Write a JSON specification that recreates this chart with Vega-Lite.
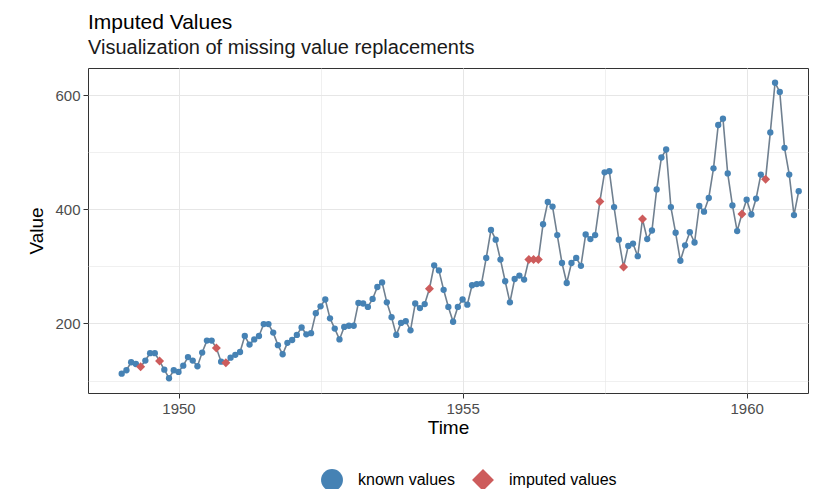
{
"$schema": "https://vega.github.io/schema/vega-lite/v6.json",
"width": 720,
"height": 325,
"autosize": {"type": "none"},
"padding": {"left": 88, "top": 68, "right": 32, "bottom": 96},
"background": "white",
"config": {
  "font": "Liberation Sans",
  "view": {"stroke": "#333333", "strokeWidth": 1},
  "axis": {"domain": false, "gridColor": "#E6E6E6", "tickColor": "#333333", "labelColor": "#4D4D4D", "labelFontSize": 15, "titleFontSize": 19, "titleFontWeight": "normal", "titleColor": "#000000", "tickSize": 5, "labelPadding": 3}
},
"title": {"text": "Imputed Values", "subtitle": "Visualization of missing value replacements", "anchor": "start", "frame": "group", "fontSize": 21, "fontWeight": "normal", "color": "#000000", "subtitleFontSize": 20, "subtitleColor": "#1a1a1a", "subtitlePadding": 5, "offset": 10, "font": "Liberation Sans", "subtitleFont": "Liberation Sans"},
"data": {"values": [
{"time":1949,"value":112,"type":"known"},{"time":1949.0833,"value":118,"type":"known"},{"time":1949.1667,"value":132,"type":"known"},{"time":1949.25,"value":129,"type":"known"},{"time":1949.3333,"value":124,"type":"imputed"},{"time":1949.4167,"value":135,"type":"known"},{"time":1949.5,"value":148,"type":"known"},{"time":1949.5833,"value":148,"type":"known"},{"time":1949.6667,"value":134,"type":"imputed"},{"time":1949.75,"value":119,"type":"known"},{"time":1949.8333,"value":104,"type":"known"},{"time":1949.9167,"value":118,"type":"known"},
{"time":1950,"value":115,"type":"known"},{"time":1950.0833,"value":126,"type":"known"},{"time":1950.1667,"value":141,"type":"known"},{"time":1950.25,"value":135,"type":"known"},{"time":1950.3333,"value":125,"type":"known"},{"time":1950.4167,"value":149,"type":"known"},{"time":1950.5,"value":170,"type":"known"},{"time":1950.5833,"value":170,"type":"known"},{"time":1950.6667,"value":157,"type":"imputed"},{"time":1950.75,"value":133,"type":"known"},{"time":1950.8333,"value":131,"type":"imputed"},{"time":1950.9167,"value":140,"type":"known"},
{"time":1951,"value":145,"type":"known"},{"time":1951.0833,"value":150,"type":"known"},{"time":1951.1667,"value":178,"type":"known"},{"time":1951.25,"value":163,"type":"known"},{"time":1951.3333,"value":172,"type":"known"},{"time":1951.4167,"value":178,"type":"known"},{"time":1951.5,"value":199,"type":"known"},{"time":1951.5833,"value":199,"type":"known"},{"time":1951.6667,"value":184,"type":"known"},{"time":1951.75,"value":162,"type":"known"},{"time":1951.8333,"value":146,"type":"known"},{"time":1951.9167,"value":166,"type":"known"},
{"time":1952,"value":171,"type":"known"},{"time":1952.0833,"value":180,"type":"known"},{"time":1952.1667,"value":193,"type":"known"},{"time":1952.25,"value":181,"type":"known"},{"time":1952.3333,"value":183,"type":"known"},{"time":1952.4167,"value":218,"type":"known"},{"time":1952.5,"value":230,"type":"known"},{"time":1952.5833,"value":242,"type":"known"},{"time":1952.6667,"value":209,"type":"known"},{"time":1952.75,"value":191,"type":"known"},{"time":1952.8333,"value":172,"type":"known"},{"time":1952.9167,"value":194,"type":"known"},
{"time":1953,"value":196,"type":"known"},{"time":1953.0833,"value":196,"type":"known"},{"time":1953.1667,"value":236,"type":"known"},{"time":1953.25,"value":235,"type":"known"},{"time":1953.3333,"value":229,"type":"known"},{"time":1953.4167,"value":243,"type":"known"},{"time":1953.5,"value":264,"type":"known"},{"time":1953.5833,"value":272,"type":"known"},{"time":1953.6667,"value":237,"type":"known"},{"time":1953.75,"value":211,"type":"known"},{"time":1953.8333,"value":180,"type":"known"},{"time":1953.9167,"value":201,"type":"known"},
{"time":1954,"value":204,"type":"known"},{"time":1954.0833,"value":188,"type":"known"},{"time":1954.1667,"value":235,"type":"known"},{"time":1954.25,"value":227,"type":"known"},{"time":1954.3333,"value":234,"type":"known"},{"time":1954.4167,"value":261,"type":"imputed"},{"time":1954.5,"value":302,"type":"known"},{"time":1954.5833,"value":293,"type":"known"},{"time":1954.6667,"value":259,"type":"known"},{"time":1954.75,"value":229,"type":"known"},{"time":1954.8333,"value":203,"type":"known"},{"time":1954.9167,"value":229,"type":"known"},
{"time":1955,"value":242,"type":"known"},{"time":1955.0833,"value":233,"type":"known"},{"time":1955.1667,"value":267,"type":"known"},{"time":1955.25,"value":269,"type":"known"},{"time":1955.3333,"value":270,"type":"known"},{"time":1955.4167,"value":315,"type":"known"},{"time":1955.5,"value":364,"type":"known"},{"time":1955.5833,"value":347,"type":"known"},{"time":1955.6667,"value":312,"type":"known"},{"time":1955.75,"value":274,"type":"known"},{"time":1955.8333,"value":237,"type":"known"},{"time":1955.9167,"value":278,"type":"known"},
{"time":1956,"value":284,"type":"known"},{"time":1956.0833,"value":277,"type":"known"},{"time":1956.1667,"value":312,"type":"imputed"},{"time":1956.25,"value":312,"type":"imputed"},{"time":1956.3333,"value":312,"type":"imputed"},{"time":1956.4167,"value":374,"type":"known"},{"time":1956.5,"value":413,"type":"known"},{"time":1956.5833,"value":405,"type":"known"},{"time":1956.6667,"value":355,"type":"known"},{"time":1956.75,"value":306,"type":"known"},{"time":1956.8333,"value":271,"type":"known"},{"time":1956.9167,"value":306,"type":"known"},
{"time":1957,"value":315,"type":"known"},{"time":1957.0833,"value":301,"type":"known"},{"time":1957.1667,"value":356,"type":"known"},{"time":1957.25,"value":348,"type":"known"},{"time":1957.3333,"value":355,"type":"known"},{"time":1957.4167,"value":414,"type":"imputed"},{"time":1957.5,"value":465,"type":"known"},{"time":1957.5833,"value":467,"type":"known"},{"time":1957.6667,"value":404,"type":"known"},{"time":1957.75,"value":347,"type":"known"},{"time":1957.8333,"value":299,"type":"imputed"},{"time":1957.9167,"value":336,"type":"known"},
{"time":1958,"value":340,"type":"known"},{"time":1958.0833,"value":318,"type":"known"},{"time":1958.1667,"value":383,"type":"imputed"},{"time":1958.25,"value":348,"type":"known"},{"time":1958.3333,"value":363,"type":"known"},{"time":1958.4167,"value":435,"type":"known"},{"time":1958.5,"value":491,"type":"known"},{"time":1958.5833,"value":505,"type":"known"},{"time":1958.6667,"value":404,"type":"known"},{"time":1958.75,"value":359,"type":"known"},{"time":1958.8333,"value":310,"type":"known"},{"time":1958.9167,"value":337,"type":"known"},
{"time":1959,"value":360,"type":"known"},{"time":1959.0833,"value":342,"type":"known"},{"time":1959.1667,"value":406,"type":"known"},{"time":1959.25,"value":396,"type":"known"},{"time":1959.3333,"value":420,"type":"known"},{"time":1959.4167,"value":472,"type":"known"},{"time":1959.5,"value":548,"type":"known"},{"time":1959.5833,"value":559,"type":"known"},{"time":1959.6667,"value":463,"type":"known"},{"time":1959.75,"value":407,"type":"known"},{"time":1959.8333,"value":362,"type":"known"},{"time":1959.9167,"value":392,"type":"imputed"},
{"time":1960,"value":417,"type":"known"},{"time":1960.0833,"value":391,"type":"known"},{"time":1960.1667,"value":419,"type":"known"},{"time":1960.25,"value":461,"type":"known"},{"time":1960.3333,"value":453,"type":"imputed"},{"time":1960.4167,"value":535,"type":"known"},{"time":1960.5,"value":622,"type":"known"},{"time":1960.5833,"value":606,"type":"known"},{"time":1960.6667,"value":508,"type":"known"},{"time":1960.75,"value":461,"type":"known"},{"time":1960.8333,"value":390,"type":"known"},{"time":1960.9167,"value":432,"type":"known"}
]},
"encoding": {
  "x": {"field": "time", "type": "quantitative", "scale": {"domain": [1948.407, 1961.08], "nice": false, "zero": false},
    "axis": {"values": [1950, 1952.5, 1955, 1957.5, 1960], "labelExpr": "datum.value % 5 == 0 ? format(datum.value, 'd') : ''",
      "tickColor": {"condition": {"test": "datum.value % 5 != 0", "value": "transparent"}, "value": "#333333"},
      "gridWidth": {"condition": {"test": "datum.value % 5 != 0", "value": 0.6}, "value": 1},
      "title": "Time", "titlePadding": 2}},
  "y": {"field": "value", "type": "quantitative", "scale": {"domain": [78.1, 647.9], "nice": false, "zero": false},
    "axis": {"values": [100, 200, 300, 400, 500, 600], "labelExpr": "datum.value % 200 == 0 ? datum.label : ''",
      "tickColor": {"condition": {"test": "datum.value % 200 != 0", "value": "transparent"}, "value": "#333333"},
      "gridWidth": {"condition": {"test": "datum.value % 200 != 0", "value": 0.6}, "value": 1},
      "title": "Value", "titlePadding": 8}}
},
"layer": [
  {"mark": {"type": "line", "color": "#708090", "strokeWidth": 1.6}},
  {"mark": {"type": "point", "filled": true, "opacity": 1},
   "encoding": {
     "color": {"field": "type", "type": "nominal", "scale": {"domain": ["known", "imputed"], "range": ["#4682B4", "#CD5C5C"]},
       "legend": {"title": null, "orient": "none", "legendX": 233, "legendY": 401, "direction": "horizontal", "symbolSize": 480, "labelFontSize": 16, "labelColor": "#000000", "labelOffset": 15, "columnPadding": 17, "labelExpr": "datum.label + ' values'", "symbolStrokeWidth": 0}},
     "shape": {"field": "type", "type": "nominal", "scale": {"domain": ["known", "imputed"], "range": ["circle", "diamond"]},
       "legend": {"title": null, "orient": "none", "legendX": 233, "legendY": 401, "direction": "horizontal", "symbolSize": 480, "labelFontSize": 16, "labelColor": "#000000", "labelOffset": 15, "columnPadding": 17, "labelExpr": "datum.label + ' values'", "symbolStrokeWidth": 0}},
     "size": {"condition": {"test": "datum.type === 'imputed'", "value": 81}, "value": 40}
   }}
]
}
